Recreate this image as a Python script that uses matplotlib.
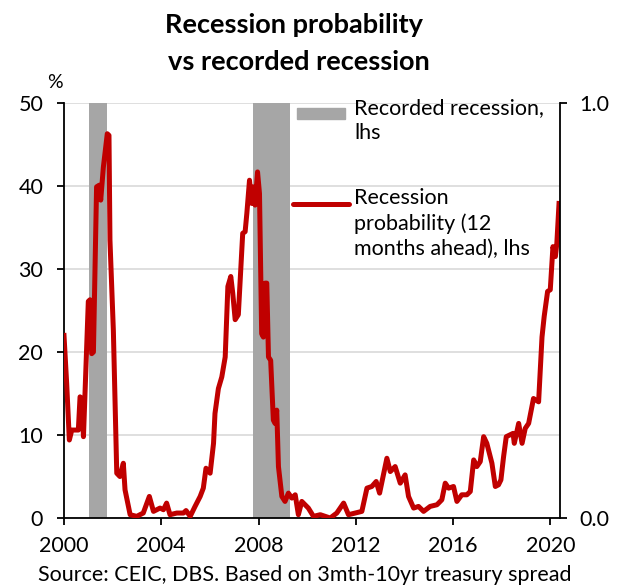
import matplotlib.pyplot as plt
from matplotlib.patches import Rectangle
from matplotlib.lines import Line2D

plt.rcParams["font.family"] = ["Lato", "DejaVu Sans"]

# ----------------------------
#   Данные
# ----------------------------

# годы (доля года) и вероятность рецессии, %
years = [
    2000.00, 2000.11, 2000.22, 2000.32, 2000.59, 2000.66, 2000.73, 2000.80,
    2001.00, 2001.07, 2001.14, 2001.21, 2001.34, 2001.45, 2001.51, 2001.62,
    2001.78, 2001.85, 2001.89, 2002.03, 2002.17, 2002.30, 2002.44, 2002.51,
    2002.72, 2002.99, 2003.26, 2003.51, 2003.68, 2003.95, 2004.09, 2004.22,
    2004.36, 2004.64, 2004.91, 2005.02, 2005.19, 2005.39, 2005.60, 2005.73,
    2005.84, 2006.01, 2006.15, 2006.21, 2006.35, 2006.49, 2006.63, 2006.74,
    2006.86, 2006.94, 2007.04, 2007.17, 2007.35, 2007.45, 2007.52, 2007.63,
    2007.72, 2007.79, 2007.86, 2007.96, 2008.04, 2008.13, 2008.20, 2008.27,
    2008.34, 2008.41, 2008.50, 2008.61, 2008.68, 2008.75, 2008.82, 2008.96,
    2009.09, 2009.23, 2009.37, 2009.51, 2009.64, 2009.78, 2010.05, 2010.26,
    2010.54, 2010.95, 2011.22, 2011.50, 2011.70, 2011.98, 2012.25, 2012.46,
    2012.66, 2012.84, 2012.98, 2013.15, 2013.28, 2013.42, 2013.62, 2013.83,
    2014.03, 2014.17, 2014.38, 2014.58, 2014.79, 2015.06, 2015.34, 2015.54,
    2015.68, 2015.82, 2016.02, 2016.16, 2016.36, 2016.57, 2016.71, 2016.85,
    2016.98, 2017.12, 2017.26, 2017.39, 2017.60, 2017.74, 2017.87, 2017.97,
    2018.08, 2018.19, 2018.33, 2018.47, 2018.52, 2018.70, 2018.84, 2018.97,
    2019.11, 2019.31, 2019.52, 2019.66, 2019.75, 2019.89, 2020.00, 2020.11,
    2020.21, 2020.27, 2020.36,
]
prob = [
    22.0, 16.2, 9.4, 10.6, 10.6, 14.6, 14.4, 9.8,
    26.1, 26.3, 19.8, 20.0, 39.9, 40.1, 38.3, 42.3,
    46.3, 46.1, 33.5, 22.6, 5.4, 5.0, 6.6, 3.4,
    0.4, 0.2, 0.6, 2.6, 0.8, 1.2, 1.0, 1.8,
    0.4, 0.6, 0.6, 0.9, 0.2, 1.4, 2.6, 3.6,
    6.0, 5.4, 9.0, 12.6, 15.6, 17.0, 19.4, 27.9,
    29.1, 27.1, 23.9, 24.5, 34.3, 34.5, 36.7, 40.7,
    37.9, 39.9, 37.7, 41.7, 39.1, 22.2, 21.8, 28.3,
    28.3, 19.4, 19.0, 11.8, 11.4, 13.0, 6.2, 2.6,
    2.0, 3.0, 2.4, 2.8, 0.4, 2.0, 1.2, 0.2,
    0.4, 0.0, 0.6, 1.8, 0.4, 0.6, 0.8, 3.6,
    3.8, 4.4, 3.0, 5.4, 7.2, 5.6, 6.2, 4.2,
    5.2, 2.6, 1.2, 1.4, 0.8, 1.4, 1.6, 2.2,
    4.2, 3.6, 3.8, 2.0, 2.8, 2.8, 3.2, 7.0,
    6.2, 6.8, 9.8, 9.0, 6.6, 3.8, 4.0, 4.6,
    7.4, 9.8, 10.0, 10.2, 9.0, 11.4, 9.0, 10.8,
    11.4, 14.4, 14.0, 21.8, 24.3, 27.3, 27.5, 32.7,
    31.5, 33.1, 37.9,
]

# зарегистрированные рецессии (начало, конец)
rec_start = [2001.04, 2007.76]
rec_end = [2001.75, 2009.30]

x_ticks = [2000, 2004, 2008, 2012, 2016, 2020]

RED = "#C00000"
GREY = "#A6A6A6"

# ----------------------------
#   Рисование
# ----------------------------

fig = plt.figure(figsize=(6.25, 5.87), dpi=100)
ax = fig.add_axes([0.1024, 0.1175, 0.7936, 0.707])

for s, e in zip(rec_start, rec_end):
    ax.axvspan(s, e, color=GREY, lw=0, zorder=1)

ax.plot(years, prob, color=RED, lw=3.6, zorder=3, solid_joinstyle="round")

ax.set_xlim(2000, 2020.4)
ax.set_ylim(0, 50)
ax.set_yticks(range(0, 51, 10))
ax.set_xticks(x_ticks)
ax.grid(axis="y", color="#D9D9D9", lw=1.2, zorder=0)
ax.set_axisbelow(True)

for side in ["top", "right"]:
    ax.spines[side].set_visible(False)
for side in ["left", "bottom"]:
    ax.spines[side].set_linewidth(1.3)
ax.tick_params(axis="both", labelsize=15.5, direction="out", length=5, width=1.3)
ax.tick_params(axis="x", pad=8)
ax.tick_params(axis="y", pad=10)

ax2 = ax.twinx()
ax2.set_ylim(0, 1)
ax2.set_yticks([0, 1])
ax2.set_yticklabels(["0.0", "1.0"])
ax2.spines["top"].set_visible(False)
ax2.spines["left"].set_visible(False)
ax2.spines["bottom"].set_visible(False)
ax2.spines["right"].set_linewidth(1.3)
ax2.tick_params(labelsize=15.5, direction="out", length=5, width=1.3, pad=9)

# заголовок и подписи
fig.text(0.470, 0.957, "Recession probability", ha="center", va="center",
         fontsize=19.5, fontweight="bold")
fig.text(0.479, 0.894, "vs recorded recession", ha="center", va="center",
         fontsize=19.5, fontweight="bold")
fig.text(0.088, 0.86, "%", ha="center", va="center", fontsize=14)
fig.text(0.488, 0.004, "Source: CEIC, DBS. Based on 3mth-10yr treasury spread",
         ha="center", va="bottom", fontsize=15.5)

# легенда вручную
ax.add_patch(Rectangle((0.470, 0.962), 0.097, 0.027, transform=ax.transAxes,
                       color=GREY, clip_on=False, zorder=4))
ax.add_line(Line2D([0.462, 0.574], [0.757, 0.757], transform=ax.transAxes,
                   color=RED, lw=3.6, solid_capstyle="round", zorder=4))
ax.text(0.585, 1.012, "Recorded recession,\nlhs", transform=ax.transAxes,
        ha="left", va="top", fontsize=15.5, linespacing=1.3, zorder=4)
ax.text(0.585, 0.795, "Recession\nprobability (12\nmonths ahead), lhs",
        transform=ax.transAxes, ha="left", va="top", fontsize=15.5,
        linespacing=1.3, zorder=4)

fig.savefig("out.png", dpi=100)
